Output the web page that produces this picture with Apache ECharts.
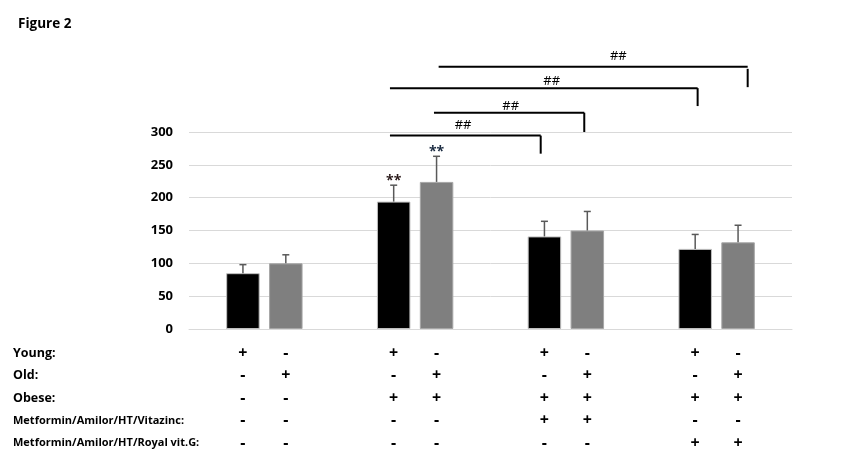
<!DOCTYPE html>
<html>
<head>
<meta charset="utf-8">
<script src="https://cdn.jsdelivr.net/npm/echarts@6/dist/echarts.min.js"></script>
<style>html,body{margin:0;padding:0;background:#fff}#c{width:844px;height:467px}</style>
</head>
<body>
<div id="c"></div>
<script>
// ---- data ----
var groups = ['G1', 'G2', 'G3', 'G4'];
var blackValues = [85, 194, 141, 122];
var blackErrors = [13, 25, 23, 22];
var grayValues = [100, 224, 150, 132];
var grayErrors = [13, 39, 29, 26];
var blackStars = ['', '**', '', ''];
var grayStars = ['', '**', '', ''];
var yTicks = [0, 50, 100, 150, 200, 250, 300];

// significance brackets (x in group units, y in value units)
var bracketX1 = [0.833, 1.125, 0.833, 1.156];
var bracketX2 = [1.833, 2.122, 2.874, 3.206];
var bracketY = [294.5, 329.4, 366.8, 399.3];
var bracketDropTop = [294.5, 329.4, 366.8, 396.2];
var bracketDropEnd = [267, 300, 339.5, 368.3];
var bracketLabel = ['##', '##', '##', '##'];
var bracketLabelX = [1.318, 1.634, 1.906, 2.348];
var bracketLabelY = [310, 339, 377, 415];

// condition table
var rowLabels = ['Young:', 'Old:', 'Obese:', 'Metformin/Amilor/HT/Vitazinc:', 'Metformin/Amilor/HT/Royal vit.G:'];
var rowYoung = ['+', '-', '+', '-', '+', '-', '+', '-'];
var rowOld = ['-', '+', '-', '+', '-', '+', '-', '+'];
var rowObese = ['-', '-', '+', '+', '+', '+', '+', '+'];
var rowVitazinc = ['-', '-', '-', '-', '+', '+', '-', '-'];
var rowRoyal = ['-', '-', '-', '-', '-', '-', '+', '+'];
var tableRows = [rowYoung, rowOld, rowObese, rowVitazinc, rowRoyal];

// ---- layout constants ----
var BAR_W = 33.5;
var BAR_GAP = 0.28;
var HALF_OFF = (BAR_W + BAR_W * BAR_GAP) / 2;
var FONT = '"Open Sans", Lato, sans-serif';

var chart = echarts.init(document.getElementById('c'));

function errData(vals, errs) {
  return vals.map(function (v, i) { return [i, v, errs[i]]; });
}

function errorRenderer(offsetSign, stars, starColor) {
  return function (params, api) {
    var g = api.value(0), v = api.value(1), e = api.value(2);
    var p0 = api.coord([g, v]);
    var p1 = api.coord([g, v + e]);
    var x = p0[0] + offsetSign * HALF_OFF;
    var children = [
      { type: 'line', shape: { x1: x, y1: p0[1], x2: x, y2: p1[1] }, style: { stroke: '#595959', lineWidth: 1.5 } },
      { type: 'line', shape: { x1: x - 3.5, y1: p1[1], x2: x + 3.5, y2: p1[1] }, style: { stroke: '#595959', lineWidth: 1.5 } }
    ];
    if (stars[params.dataIndex]) {
      children.push({ type: 'text', x: x, y: p1[1] - 4, style: { text: stars[params.dataIndex], fill: starColor, font: 'bold 14px ' + FONT, align: 'center', verticalAlign: 'middle' } });
    }
    return { type: 'group', children: children };
  };
}

var bracketData = bracketX1.map(function (x, i) { return [x, bracketY[i], i]; });

var option = {
  animation: false,
  backgroundColor: '#fff',
  title: {
    text: 'Figure 2', left: 13, top: 12,
    textStyle: { fontFamily: FONT, fontWeight: 'bold', fontSize: 13.5, color: '#000' }
  },
  grid: { left: 189, right: 52, top: 132, bottom: 138 },
  xAxis: [
    { type: 'category', data: groups, axisLine: { lineStyle: { color: '#d9d9d9' } }, axisTick: { show: false }, axisLabel: { show: false } },
    { type: 'value', min: -0.5, max: 3.5, show: false }
  ],
  yAxis: {
    type: 'value', min: 0, max: 300, interval: 50,
    axisLine: { show: false }, axisTick: { show: false },
    axisLabel: { margin: 16, color: '#000', fontFamily: FONT, fontWeight: 'bold', fontSize: 13 },
    splitLine: { lineStyle: { color: '#d9d9d9' } }
  },
  series: [
    { type: 'bar', data: blackValues, barWidth: BAR_W, barGap: (BAR_GAP * 100) + '%', itemStyle: { color: '#000', borderColor: '#bfbfbf', borderWidth: 1 } },
    { type: 'bar', data: grayValues, barWidth: BAR_W, itemStyle: { color: '#7f7f7f', borderColor: '#a6a6a6', borderWidth: 1 } },
    { type: 'custom', data: errData(blackValues, blackErrors), renderItem: errorRenderer(-1, blackStars, '#2a1a1a'), encode: { x: 0, y: 1 }, z: 5, clip: false },
    { type: 'custom', data: errData(grayValues, grayErrors), renderItem: errorRenderer(1, grayStars, '#1a2a40'), encode: { x: 0, y: 1 }, z: 5, clip: false },
    {
      type: 'custom', xAxisIndex: 1, data: bracketData, encode: { x: 0, y: 1 }, clip: false, z: 6,
      renderItem: function (params, api) {
        var i = params.dataIndex;
        var a = api.coord([bracketX1[i], bracketY[i]]);
        var b = api.coord([bracketX2[i], bracketY[i]]);
        var dt = api.coord([bracketX2[i], bracketDropTop[i]]);
        var de = api.coord([bracketX2[i], bracketDropEnd[i]]);
        var lp = api.coord([bracketLabelX[i], bracketLabelY[i]]);
        return { type: 'group', children: [
          { type: 'line', shape: { x1: a[0], y1: a[1], x2: b[0], y2: b[1] }, style: { stroke: '#000', lineWidth: 2 } },
          { type: 'line', shape: { x1: dt[0], y1: dt[1], x2: de[0], y2: de[1] }, style: { stroke: '#000', lineWidth: 2 } },
          { type: 'text', x: lp[0], y: lp[1], style: { text: bracketLabel[i], fill: '#000', font: '13px ' + FONT, align: 'center', verticalAlign: 'middle' } }
        ] };
      }
    },
    {
      type: 'custom', data: tableRows.map(function (r, i) { return [i, 0]; }), encode: { x: 0, y: 1 }, clip: false, z: 6,
      renderItem: function (params, api) {
        var r = params.dataIndex;
        var base = api.coord([0, 0])[1];
        var y = base + 24 + r * 22.5;
        var small = r >= 3;
        var children = [
          { type: 'text', x: 13, y: y, style: { text: rowLabels[r], fill: '#000', font: 'bold ' + (small ? 11 : 12.5) + 'px ' + FONT, align: 'left', verticalAlign: 'middle' } }
        ];
        tableRows[r].forEach(function (s, c) {
          var g = Math.floor(c / 2);
          var cx = api.coord([g, 0])[0] + (c % 2 === 0 ? -HALF_OFF : HALF_OFF);
          children.push({ type: 'text', x: cx, y: y, style: { text: s, fill: '#000', font: 'bold 16px ' + FONT, align: 'center', verticalAlign: 'middle' } });
        });
        return { type: 'group', children: children };
      }
    }
  ]
};
chart.setOption(option);
</script>
</body>
</html>
